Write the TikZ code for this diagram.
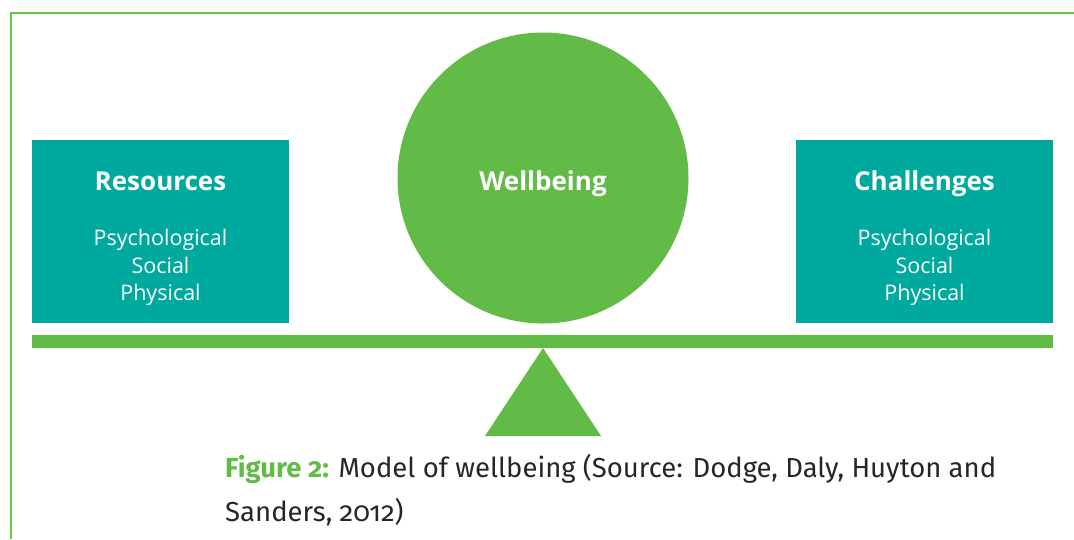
\documentclass[tikz,border=0pt]{standalone}
\usepackage{fontspec}
\setmainfont{Open Sans}
\newfontfamily\capfont[Numbers=OldStyle]{Fira Sans}
\definecolor{teal}{RGB}{0,169,157}
\definecolor{leaf}{RGB}{98,187,70}
\definecolor{frame}{RGB}{95,203,63}
\begin{document}
\begin{tikzpicture}[x=1pt,y=-1pt,
  sidebox/.style={fill=teal,draw=none,minimum width=257pt,minimum height=183pt,anchor=north west,inner sep=0pt},
  head/.style={text=white,anchor=base,inner sep=0pt,font=\fontsize{26}{30}\selectfont\bfseries},
  items/.style={text=white,font=\fontsize{21.5}{27.5}\selectfont,align=center},
  captext/.style={anchor=base west,inner sep=0pt,font=\capfont\fontsize{27.5}{36}\selectfont,text=black!85}]
\useasboundingbox (0,0) rectangle (1074,539);
\draw[frame,line width=1.5pt] (10.75,539) -- (10.75,12.75) -- (1074,12.75);
\node[sidebox] (res) at (32,140) {};
\node[sidebox] (cha) at (796,140) {};
\node[circle,fill=leaf,minimum size=291pt,inner sep=0pt] (wb) at (543,178) {};
\node[head] (reslab) at (160.5,190.5) {Resources};
\node[head] (chalab) at (924.5,190.5) {Challenges};
\node[head] (wblab) at (543,190.5) {Wellbeing};
\node[items] (resit) at (160.5,267.5) {Psychological\\Social\\Physical};
\node[items] (chait) at (924.5,267.5) {Psychological\\Social\\Physical};
\fill[leaf] (32,335) rectangle (1053,348);
\coordinate (apex) at (543,348);
\fill[leaf] (apex) -- (601,436) -- (485,436) -- cycle;
\node[captext] (cap1) at (225,477) {\textcolor{leaf}{\textbf{Figure 2:}} Model of wellbeing (Source: Dodge, Daly, Huyton and};
\node[captext] (cap2) at (225,521) {Sanders, 2012)};
\end{tikzpicture}
\end{document}
